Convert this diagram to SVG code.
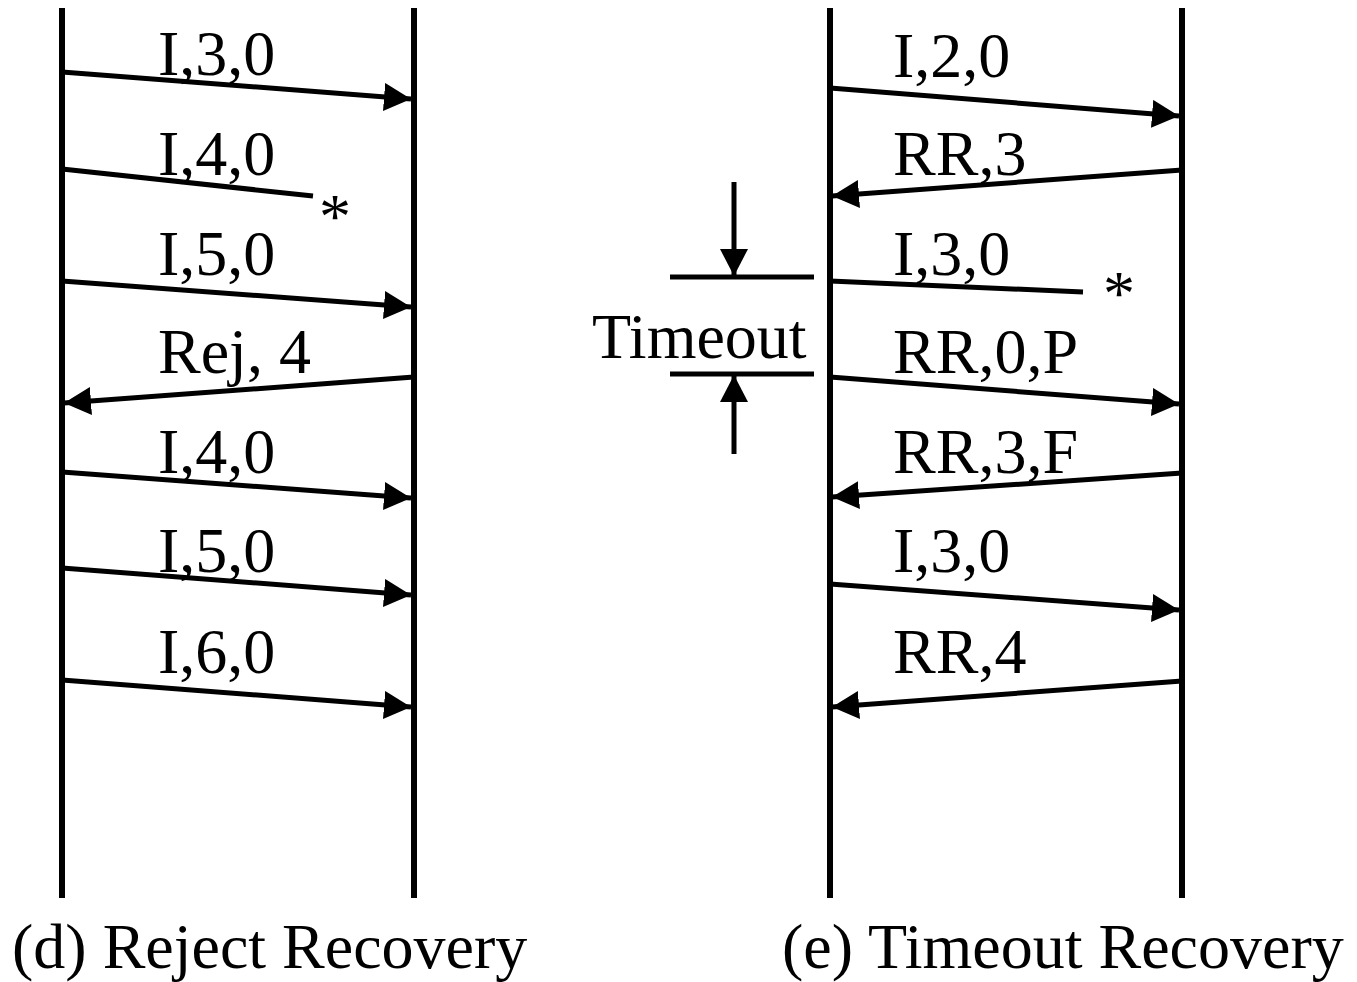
<svg xmlns="http://www.w3.org/2000/svg" width="1357" height="982" viewBox="0 0 1357 982">
<style>
.life{stroke:#000;stroke-width:6;fill:none}
.msg{stroke:#000;stroke-width:5;fill:none}
.lbl{font-family:"Liberation Serif","Times New Roman",serif;font-size:64px;fill:#000}
.cap{font-family:"Liberation Serif","Times New Roman",serif;font-size:64px;fill:#000}
</style>
<defs>
<marker id="ah" markerUnits="userSpaceOnUse" markerWidth="28" markerHeight="28" refX="27" refY="14" orient="auto" viewBox="0 0 28 28">
<path d="M0,0 L27,14 L0,28 z" fill="#000"/>
</marker>
</defs>
<rect width="1357" height="982" fill="#fff"/>
<g id="lifelines">
<line class="life" x1="62" y1="8" x2="62" y2="898"/>
<line class="life" x1="414" y1="8" x2="414" y2="898"/>
<line class="life" x1="830" y1="8" x2="830" y2="898"/>
<line class="life" x1="1182" y1="8" x2="1182" y2="898"/>
</g>
<g id="connectors">
<line class="msg" x1="62" y1="72" x2="411" y2="99" marker-end="url(#ah)"/>
<line class="msg" x1="62" y1="169" x2="313" y2="196"/>
<line class="msg" x1="62" y1="281" x2="411" y2="307" marker-end="url(#ah)"/>
<line class="msg" x1="414" y1="377" x2="64" y2="403" marker-end="url(#ah)"/>
<line class="msg" x1="62" y1="472" x2="411" y2="498" marker-end="url(#ah)"/>
<line class="msg" x1="62" y1="568" x2="411" y2="595" marker-end="url(#ah)"/>
<line class="msg" x1="62" y1="680" x2="411" y2="707" marker-end="url(#ah)"/>
<line class="msg" x1="830" y1="88" x2="1179" y2="116" marker-end="url(#ah)"/>
<line class="msg" x1="1182" y1="170" x2="832" y2="196" marker-end="url(#ah)"/>
<line class="msg" x1="830" y1="281" x2="1083" y2="292"/>
<line class="msg" x1="830" y1="377" x2="1179" y2="404" marker-end="url(#ah)"/>
<line class="msg" x1="1182" y1="473" x2="832" y2="497" marker-end="url(#ah)"/>
<line class="msg" x1="830" y1="584" x2="1179" y2="610" marker-end="url(#ah)"/>
<line class="msg" x1="1182" y1="681" x2="832" y2="707" marker-end="url(#ah)"/>
<line class="msg" x1="734" y1="182" x2="734" y2="276" marker-end="url(#ah)"/>
<line class="msg" x1="734" y1="454" x2="734" y2="375" marker-end="url(#ah)"/>
<line class="msg" x1="670" y1="277" x2="814" y2="277"/>
<line class="msg" x1="670" y1="374" x2="814" y2="374"/>
</g>
<g id="labels-d">
<text class="lbl" x="158" y="75">I,3,0</text>
<text class="lbl" x="158" y="175">I,4,0</text>
<text class="lbl" x="319" y="238">*</text>
<text class="lbl" x="158" y="275">I,5,0</text>
<text class="lbl" x="158" y="373">Rej, 4</text>
<text class="lbl" x="158" y="473">I,4,0</text>
<text class="lbl" x="158" y="572">I,5,0</text>
<text class="lbl" x="158" y="673">I,6,0</text>
</g>
<g id="labels-e">
<text class="lbl" x="893" y="77">I,2,0</text>
<text class="lbl" x="893" y="175">RR,3</text>
<text class="lbl" x="893" y="275">I,3,0</text>
<text class="lbl" x="1103" y="315">*</text>
<text class="lbl" x="893" y="373">RR,0,P</text>
<text class="lbl" x="893" y="473">RR,3,F</text>
<text class="lbl" x="893" y="572">I,3,0</text>
<text class="lbl" x="893" y="673">RR,4</text>
<text class="lbl" x="592" y="358">Timeout</text>
</g>
<g id="captions">
<text class="cap" x="12" y="968">(d) Reject Recovery</text>
<text class="cap" x="782" y="968">(e) Timeout Recovery</text>
</g>
</svg>
